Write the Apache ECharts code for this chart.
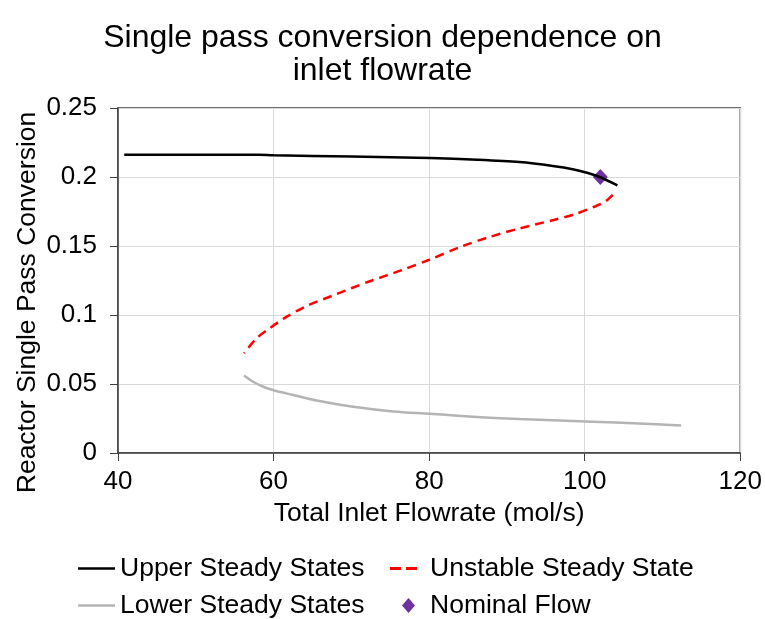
<!DOCTYPE html>
<html><head><meta charset="utf-8">
<script src="https://cdn.jsdelivr.net/npm/echarts@6/dist/echarts.min.js"></script>
<style>html,body{margin:0;padding:0;background:#fff}#c{width:765px;height:619px}</style>
</head><body><div id="c"></div>
<script>
const upperX = [40.8, 50, 58.1, 60, 70, 80.1, 86.2, 91.6, 95.9, 98.6, 100.3, 101.9, 104.2];
const upperY = [0.2161, 0.2161, 0.2161, 0.2157, 0.2149, 0.2137, 0.2125, 0.2108, 0.208, 0.2055, 0.2031, 0.2, 0.194];
const unstableX = [103.6, 102.7, 101.4, 98.6, 95.9, 91.6, 87.8, 84.05, 80.1, 76.5, 72.2, 67.8, 64.05, 61.35, 59.5, 57.8, 56.2];
const unstableY = [0.187, 0.1824, 0.1788, 0.1728, 0.1687, 0.1627, 0.1566, 0.1494, 0.1402, 0.1325, 0.1241, 0.1145, 0.106, 0.0976, 0.0904, 0.0831, 0.0723];
const lowerX = [56.2, 57.3, 58.6, 60, 62.4, 65.7, 70, 75.4, 80.1, 86.2, 91.6, 100.1, 107.8, 112.4];
const lowerY = [0.0561, 0.0518, 0.0482, 0.0455, 0.0422, 0.0378, 0.0337, 0.0301, 0.0284, 0.026, 0.0246, 0.0229, 0.0212, 0.020];
const nominalX = [102];
const nominalY = [0.2];
const xTicks = [40, 60, 80, 100, 120];
const yTickLabels = ['0', '0.05', '0.1', '0.15', '0.2', '0.25'];
const zip = (a, b) => a.map((v, i) => [v, b[i]]);
const font = '"Liberation Sans", Arial, sans-serif';
const FS = 26;
const legendText = {fontFamily: font, fontSize: 26.5, color: '#000'};
const chart = echarts.init(document.getElementById('c'));
chart.setOption({
  animation: false,
  title: {
    text: 'Single pass conversion dependence on\ninlet flowrate',
    left: 'center', top: 17,
    textStyle: {fontFamily: font, fontSize: 32, fontWeight: 'normal', color: '#000', lineHeight: 33}
  },
  legend: [
    {left: 73, top: 550, itemWidth: 37, itemHeight: 2.5,
     data: [{name: 'Upper Steady States', icon: 'rect'}], textStyle: legendText},
    {left: 73, top: 587, itemWidth: 37, itemHeight: 2.5,
     data: [{name: 'Lower Steady States', icon: 'rect'}], textStyle: legendText},
    {left: 385, top: 550, itemWidth: 27, itemHeight: 3,
     data: [{name: 'Unstable Steady State', icon: 'path://M0,0h11v3h-11zM16,0h11v3h-11z'}],
     textStyle: Object.assign({padding: [0, 0, 0, 8]}, legendText)},
    {left: 397, top: 587, itemWidth: 13, itemHeight: 15,
     data: [{name: 'Nominal Flow', icon: 'diamond', itemStyle: {color: '#7030a0', opacity: 1}}],
     textStyle: Object.assign({padding: [0, 0, 0, 10]}, legendText)}
  ],
  grid: {left: 118, right: 24, top: 108, bottom: 166, show: true, borderColor: '#404040', borderWidth: 1.5},
  xAxis: {
    type: 'value', min: xTicks[0], max: xTicks[xTicks.length - 1], interval: 20,
    name: 'Total Inlet Flowrate (mol/s)', nameLocation: 'middle', nameGap: 41,
    nameTextStyle: {fontFamily: font, fontSize: 26.5, color: '#000'},
    axisLine: {lineStyle: {color: '#404040', width: 1.5}},
    axisTick: {show: true, length: 8, lineStyle: {color: '#404040'}},
    axisLabel: {fontFamily: font, fontSize: FS, color: '#000', margin: 16},
    splitLine: {lineStyle: {color: '#d9d9d9'}}
  },
  yAxis: {
    type: 'value', min: 0, max: 0.25, interval: 0.05,
    name: 'Reactor Single Pass Conversion', nameLocation: 'middle', nameGap: 77,
    nameMoveOverlap: false,
    nameTextStyle: {fontFamily: font, fontSize: 26.5, color: '#000', padding: [0, 44, 0, 0]},
    axisLine: {show: true, lineStyle: {color: '#404040', width: 1.5}},
    axisTick: {show: true, length: 8, lineStyle: {color: '#404040'}},
    axisLabel: {fontFamily: font, fontSize: FS, color: '#000', margin: 21,
      formatter: (v, i) => yTickLabels[i] !== undefined ? yTickLabels[i] : String(v)},
    splitLine: {lineStyle: {color: '#d9d9d9'}}
  },
  series: [
    {name: 'Upper Steady States', type: 'line', smooth: 0.3, symbol: 'none',
     data: zip(upperX, upperY), lineStyle: {color: '#000', width: 2.5}, itemStyle: {color: '#000'}},
    {name: 'Unstable Steady State', type: 'line', smooth: 0.3, symbol: 'none',
     data: zip(unstableX, unstableY), lineStyle: {color: '#ff0000', width: 2.5, type: [9, 6]}, itemStyle: {color: '#ff0000'}},
    {name: 'Lower Steady States', type: 'line', smooth: 0.3, symbol: 'none',
     data: zip(lowerX, lowerY), lineStyle: {color: '#b4b4b4', width: 2.5}, itemStyle: {color: '#b4b4b4'}},
    {name: 'Nominal Flow', type: 'scatter', symbol: 'diamond', symbolSize: [15, 16],
     data: zip(nominalX, nominalY), itemStyle: {color: '#7030a0', opacity: 1}}
  ]
});
</script></body></html>
